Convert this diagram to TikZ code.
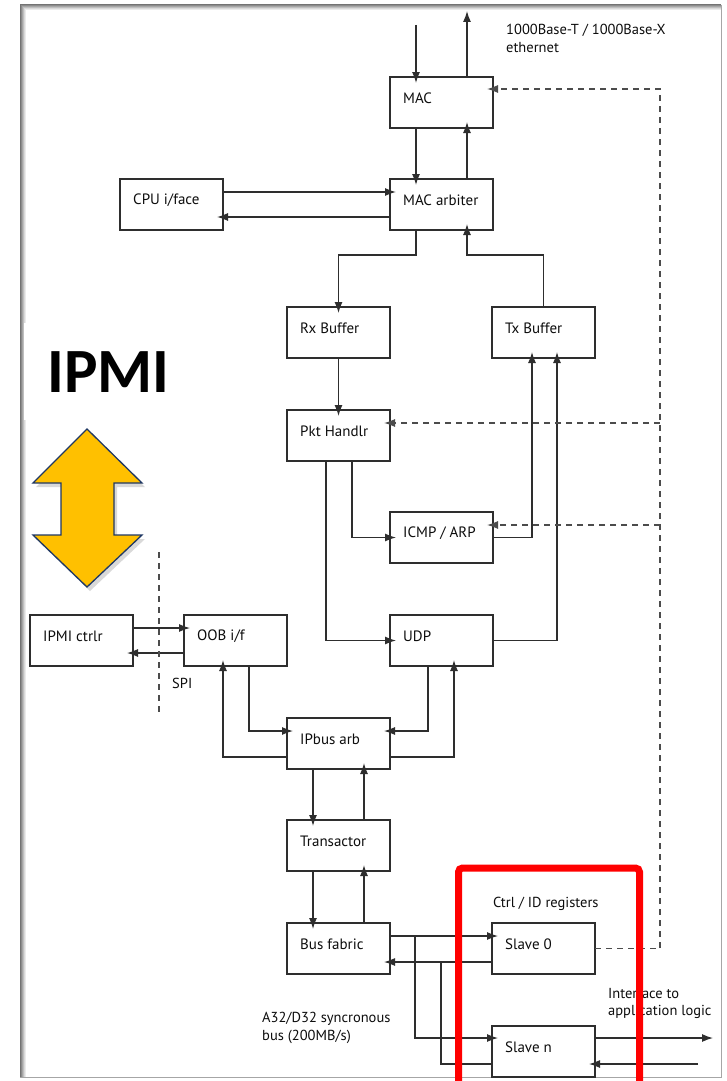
\documentclass[tikz,border=0pt]{standalone}
\usepackage{fontspec}
\setmainfont{PT Sans}
\newfontfamily\ipmifont{Carlito}
\usetikzlibrary{arrows.meta,calc}
\colorlet{linec}{black!82}
\colorlet{dashc}{black!70}
\colorlet{txtc}{black!95}
\definecolor{ygold}{RGB}{255,192,0}
\definecolor{navy}{RGB}{31,56,100}
\tikzset{
 tipA/.tip={Latex[length=11pt,width=8pt]},
 box/.style={draw=linec, line width=1.3pt, minimum width=103pt, minimum height=51pt, anchor=north west, inner sep=0pt, outer sep=0pt},
 btxt/.style={font=\fontsize{15}{17}\selectfont, text=txtc, anchor=west, inner sep=0pt},
 ftxt/.style={font=\fontsize{14.5}{17.5}\selectfont, text=txtc, anchor=north west, inner sep=0pt, align=left},
 conn/.style={color=linec, line width=1.3pt},
 arr/.style={conn, -tipA, shorten >=-6pt},
 dsh/.style={color=dashc, line width=1.3pt, dash pattern=on 6pt off 5pt},
 darr/.style={dsh, -tipA, shorten >=-6pt},
}
\begin{document}
\begin{tikzpicture}[x=1pt,y=-1pt]
\useasboundingbox (0,0) rectangle (726,1081);
\fill[white] (0,0) rectangle (726,1081);
% frame with inner shadow
\foreach \i/\c in {0/55,1/45,2/35,3/25,4/15,5/8}{
  \draw[black!\c, line width=1pt] (20+\i,1077) -- (20+\i,5+\i) -- (721,5+\i);
}
\draw[black!35, line width=1pt] (721,5) -- (721,1077) -- (20,1077);
\fill[white] (24,323) rectangle (190,420);

% boxes
\node[box] (mac) at (390,77) {};
\node[btxt] (macT) at ($(mac.north west)+(13,21)$) {MAC};
\node[box] (arb) at (390,179) {};
\node[btxt] (arbT) at ($(arb.north west)+(13,21)$) {MAC arbiter};
\node[box] (cpu) at (120,179) {};
\node[btxt] (cpuT) at ($(cpu.north west)+(13,21)$) {CPU i/face};
\node[box] (rx) at (287,307) {};
\node[btxt] (rxT) at ($(rx.north west)+(13,21)$) {Rx Buffer};
\node[box] (tx) at (492,307) {};
\node[btxt] (txT) at ($(tx.north west)+(13,21)$) {Tx Buffer};
\node[box] (pkt) at (287,410) {};
\node[btxt] (pktT) at ($(pkt.north west)+(13,21)$) {Pkt Handlr};
\node[box] (icmp) at (390,512) {};
\node[btxt] (icmpT) at ($(icmp.north west)+(13,21)$) {ICMP / ARP};
\node[box] (ipmi) at (30,615) {};
\node[btxt] (ipmiT) at ($(ipmi.north west)+(13,21)$) {IPMI ctrlr};
\node[box] (oob) at (184,615) {};
\node[btxt] (oobT) at ($(oob.north west)+(13,21)$) {OOB i/f};
\node[box] (udp) at (390,615) {};
\node[btxt] (udpT) at ($(udp.north west)+(13,21)$) {UDP};
\node[box] (ipb) at (287,718) {};
\node[btxt] (ipbT) at ($(ipb.north west)+(13,21)$) {IPbus arb};
\node[box] (trans) at (287,820) {};
\node[btxt] (transT) at ($(trans.north west)+(13,21)$) {Transactor};
\node[box] (fab) at (287,923) {};
\node[btxt] (fabT) at ($(fab.north west)+(13,21)$) {Bus fabric};
\node[box] (s0) at (492,923) {};
\node[btxt] (s0T) at ($(s0.north west)+(13,21)$) {Slave 0};
\node[box] (sn) at (492,1026) {};
\node[btxt] (snT) at ($(sn.north west)+(13,21)$) {Slave n};

% free texts
\node[ftxt] (eth) at (506,24) {1000Base-T / 1000Base-X\\ethernet};
\node[ftxt] (ctrl) at (493,897) {Ctrl / ID registers};
\node[ftxt] (iface) at (608,988) {Interface to\\application logic};
\node[ftxt] (a32) at (262,1012) {A32/D32 syncronous\\bus (200MB/s)};
\node[ftxt] (spi) at (172,678) {SPI};

% free ends
\coordinate (ethin) at (416,25);
\coordinate (ethout) at (467,17);
\coordinate (dtop) at (660,89);
\coordinate (spiA) at (159,552);
\coordinate (spiB) at (159,713);
\coordinate (appout) at (707,1038);
\coordinate (appin) at (698,1064);

% ethernet
\draw[arr] (ethin) -- ($(mac.north west)+(26,0)$);
\draw[arr] ($(mac.north west)+(77,0)$) -- (ethout);
\draw[arr] ($(mac.south west)+(26,0)$) -- ($(arb.north west)+(26,0)$);
\draw[arr] ($(arb.north west)+(77,0)$) -- ($(mac.south west)+(77,0)$);
% cpu
\draw[arr] ($(cpu.north east)+(0,13)$) -- ($(arb.north west)+(0,13)$);
\draw[arr] ($(arb.north west)+(0,38)$) -- ($(cpu.north east)+(0,38)$);
% arbiter <-> buffers
\draw[arr] ($(arb.south west)+(26,0)$) -- ++(0,25) -| (rx.north);
\draw[arr] (tx.north) -- ++(0,-52) -| ($(arb.south west)+(77,0)$);
\draw[arr] (rx.south) -- (pkt.north);
% pkt handler
\draw[arr] ($(pkt.south west)+(65,0)$) |- (icmp.west);
\draw[arr] ($(pkt.south west)+(39,0)$) |- (udp.west);
\draw[arr] (icmp.east) -| ($(tx.south west)+(40,0)$);
\draw[arr] (udp.east) -| ($(tx.south west)+(65,0)$);
% udp <-> ipbus
\draw[arr] ($(udp.south west)+(38,0)$) |- ($(ipb.north east)+(0,13)$);
\draw[arr] ($(ipb.north east)+(0,39)$) -| ($(udp.south west)+(64,0)$);
% oob <-> ipbus
\draw[arr] ($(oob.south west)+(65,0)$) |- ($(ipb.north west)+(0,13)$);
\draw[arr] ($(ipb.north west)+(0,39)$) -| ($(oob.south west)+(39,0)$);
% ipmi <-> oob
\draw[arr] ($(ipmi.north east)+(0,13)$) -- ($(oob.north west)+(0,13)$);
\draw[arr] ($(oob.north west)+(0,38)$) -- ($(ipmi.north east)+(0,38)$);
\draw[dsh] (spiA) -- (spiB);
% ipbus <-> transactor <-> fabric
\draw[arr] ($(ipb.south west)+(26,0)$) -- ($(trans.north west)+(26,0)$);
\draw[arr] ($(trans.north west)+(77,0)$) -- ($(ipb.south west)+(77,0)$);
\draw[arr] ($(trans.south west)+(26,0)$) -- ($(fab.north west)+(26,0)$);
\draw[arr] ($(fab.north west)+(77,0)$) -- ($(trans.south west)+(77,0)$);
% fabric <-> slaves
\draw[arr] ($(fab.north east)+(0,13)$) -- ($(s0.north west)+(0,13)$);
\draw[arr] ($(fab.north east)+(25,13)$) |- ($(sn.north west)+(0,12)$);
\draw[arr] ($(s0.north west)+(0,39)$) -- ($(fab.north east)+(0,39)$);
\draw[conn] ($(sn.north west)+(0,38)$) -| ($(fab.north east)+(51,39)$);
\draw[arr] ($(sn.north east)+(0,12)$) -- (appout);
\draw[arr] (appin) -- ($(sn.north east)+(0,38)$);

% dashed control lines
\draw[darr] (s0.east) -| (dtop) -- ($(mac.north east)+(0,12)$);
\draw[darr] ($(pkt.north east)+(270,13)$) -- ($(pkt.north east)+(0,13)$);
\draw[darr] ($(icmp.north east)+(167,13)$) -- ($(icmp.north east)+(0,13)$);

% IPMI label and yellow double arrow
\node[font=\ipmifont\bfseries\fontsize{63}{63}\selectfont, anchor=base west, inner sep=0pt] (ipmilbl) at (47,392) {IPMI};
\fill[black, opacity=0.15] (90,433) -- (145,487) -- (117,487) -- (117,539) -- (145,539) -- (90,591) -- (36,539) -- (64,539) -- (64,487) -- (36,487) -- cycle;
\filldraw[fill=ygold, draw=navy, line width=1.3pt, line join=miter] (87,429) -- (142,483) -- (114,483) -- (114,535) -- (142,535) -- (87,587) -- (33,535) -- (61,535) -- (61,483) -- (33,483) -- cycle;

% red highlight
\draw[red, line width=7pt, rounded corners=4pt] (458.5,1085) -- (458.5,868) -- (639.5,868) -- (639.5,1085);
\end{tikzpicture}
\end{document}
